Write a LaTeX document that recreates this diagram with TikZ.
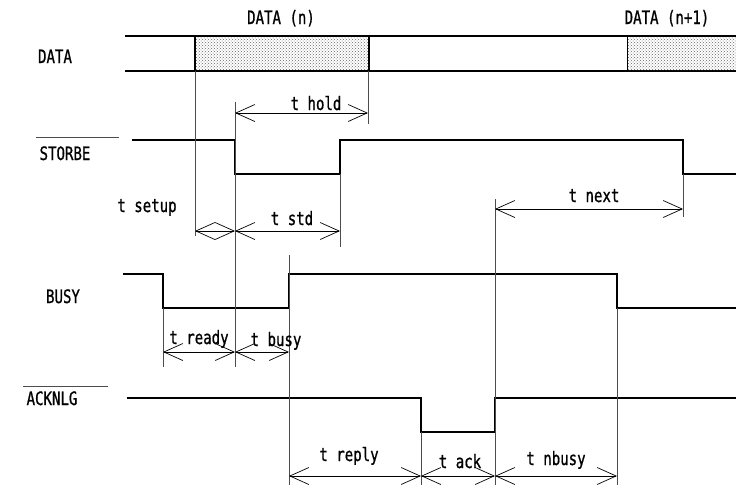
\documentclass[tikz,border=0pt]{standalone}
\usepackage{fontspec}
\setmainfont[FakeStretch=0.76, FakeBold=0.8]{DejaVu Sans Mono}
\usetikzlibrary{arrows.meta, patterns}

\begin{document}
\begin{tikzpicture}[x=1pt, y=-1pt, >={Straight Barb[length=19pt,width=17pt]},
  sig/.style={line width=1.6pt, line join=miter},
  guide/.style={line width=0.7pt, black!70},
  dim/.style={<->, line width=0.7pt},
  lbl/.style={anchor=base, inner sep=0pt, font=\fontsize{18.5}{18.5}\selectfont}]
  \useasboundingbox (0,0) rectangle (736,488);

  %% signal names
  \node (ndata)  at (55,63)  [lbl] {DATA};
  \node (nstb)   at (65,160) [lbl] {STORBE};
  \node (nbusy)  at (63,303) [lbl] {BUSY};
  \node (nack)   at (52,405) [lbl] {ACKNLG};
  \draw[guide] (36,137) -- (119,137); % overline
  \draw[guide] (23,386) -- (108,386); % overline

  %% DATA
  \node (dn)  at (281,24) [lbl] {DATA (n)};
  \node (dn1) at (667,24) [lbl] {DATA (n+1)};
  \draw[line width=1.3pt] (125,36) -- (736,36);
  \draw[line width=1.3pt] (125,71) -- (736,71);
  \draw[line width=1.8pt, pattern=crosshatch dots, pattern color=black!60] (195,36) rectangle (369,71);
  \draw[line width=0.8pt, pattern=crosshatch dots, pattern color=black!60] (627,36) rectangle (738,71);

  %% STORBE, BUSY, ACKNLG
  \draw[sig] (132,140) -- (235,140) -- (235,174) -- (340,174) -- (340,140)
    -- (683,140) -- (683,174) -- (736,174);
  \draw[sig] (123,274) -- (163,274) -- (163,308) -- (289,308) -- (289,274)
    -- (617,274) -- (617,308) -- (736,308);
  \draw[sig] (127,398) -- (421,398) -- (421,432) -- (495,432) -- (495,398)
    -- (736,398);

  %% guide lines
  \coordinate (g1a) at (195,71);  \coordinate (g1b) at (195,236);
  \coordinate (g2a) at (368,71);  \coordinate (g2b) at (368,124);
  \coordinate (g3a) at (235,102); \coordinate (g3b) at (235,367);
  \coordinate (g4a) at (340,174); \coordinate (g4b) at (340,247);
  \coordinate (g5a) at (683,174); \coordinate (g5b) at (683,217);
  \coordinate (g6a) at (495,199); \coordinate (g6b) at (495,485);
  \coordinate (g7a) at (163,308); \coordinate (g7b) at (163,367);
  \coordinate (g8a) at (289,255); \coordinate (g8b) at (289,485);
  \coordinate (g9a) at (421,432); \coordinate (g9b) at (421,485);
  \coordinate (g10a) at (617,308); \coordinate (g10b) at (617,485);
  \foreach \g in {1,...,10}
    \draw[guide] (g\g a) -- (g\g b);

  %% timing arrows
  \coordinate (hold1) at (235,113);  \coordinate (hold2) at (368,113);
  \coordinate (set1)  at (195,231);  \coordinate (set2)  at (235,231);
  \coordinate (std2)  at (340,231);
  \coordinate (next1) at (495,209);  \coordinate (next2) at (683,209);
  \coordinate (rdy1)  at (163,352);  \coordinate (rdy2)  at (235,352);
  \coordinate (bsy2)  at (289,352);
  \coordinate (rep1)  at (289,476);  \coordinate (rep2)  at (421,476);
  \coordinate (ack2)  at (495,476);  \coordinate (nb2)   at (617,476);

  \draw[dim] (hold1) -- (hold2);
  \draw[dim] (set1) -- (set2);
  \draw[dim] (set2) -- (std2);
  \draw[dim] (next1) -- (next2);
  \draw[dim] (rdy1) -- (rdy2);
  \draw[dim] (rdy2) -- (bsy2);
  \draw[dim] (rep1) -- (rep2);
  \draw[dim] (rep2) -- (ack2);
  \draw[dim] (ack2) -- (nb2);

  \node (thold)  at (316,110) [lbl] {t hold};
  \node (tsetup) at (147,212) [lbl] {t setup};
  \node (tstd)   at (292,225) [lbl] {t std};
  \node (tnext)  at (594,202) [lbl] {t next};
  \node (tready) at (199,344) [lbl] {t ready};
  \node (tbusy)  at (276,346) [lbl] {t busy};
  \node (treply) at (349,461) [lbl] {t reply};
  \node (tack)   at (460,468) [lbl] {t ack};
  \node (tnbusy) at (556,465) [lbl] {t nbusy};
\end{tikzpicture}
\end{document}
